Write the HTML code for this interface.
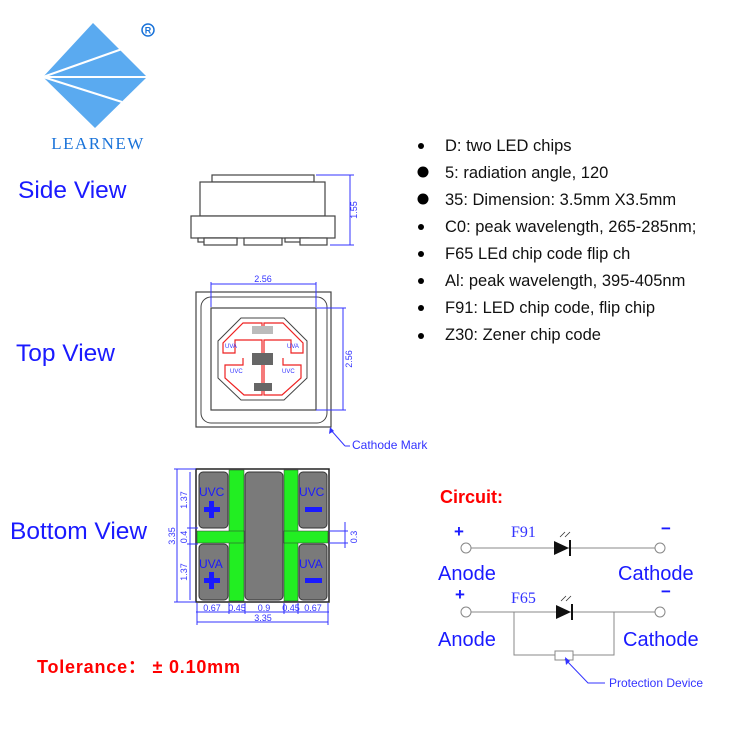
<!DOCTYPE html>
<html><head><meta charset="utf-8"><style>
html,body{margin:0;padding:0;background:#fff}
svg{display:block}
text{font-family:"Liberation Sans","Noto Sans CJK SC",sans-serif}
text.serif{font-family:"Liberation Serif",serif}
</style></head><body>
<svg width="750" height="750" viewBox="0 0 750 750" xmlns="http://www.w3.org/2000/svg">
<!-- logo -->
<polygon points="93,23 147,77 95,128 43,77" fill="#5aaaf0"/>
<line x1="43" y1="77" x2="122" y2="49" stroke="#fff" stroke-width="2"/>
<line x1="43" y1="77" x2="147" y2="77" stroke="#fff" stroke-width="2"/>
<line x1="43" y1="77" x2="122" y2="102" stroke="#fff" stroke-width="2"/>
<circle cx="148" cy="30" r="6" fill="none" stroke="#1a73d9" stroke-width="1.5"/>
<text x="148" y="33.5" font-size="9" font-weight="bold" fill="#1a73d9" text-anchor="middle">R</text>
<text class="serif" x="98" y="149" font-size="17" fill="#1a73d9" text-anchor="middle" letter-spacing="1.5">LEARNEW</text>

<!-- labels -->
<g fill="#1a1aff" font-size="24.5">
<text x="18" y="198">Side View</text>
<text x="16" y="361">Top View</text>
<text x="10" y="539">Bottom View</text>
</g>
<text x="37" y="673" font-size="18" font-weight="bold" fill="#ff0000" textLength="203" lengthAdjust="spacing">Tolerance：  ± 0.10mm</text>

<!-- side view -->
<g fill="#fff" stroke="#444" stroke-width="1.2">
<rect x="212" y="175" width="102" height="7"/>
<rect x="200" y="182" width="125" height="34"/>
<rect x="191" y="216" width="144" height="22"/>
<rect x="198" y="238" width="39" height="4"/>
<rect x="204" y="238" width="33" height="7"/>
<rect x="244" y="238" width="38" height="7"/>
<rect x="285" y="238" width="24" height="4"/>
<rect x="300" y="238" width="27" height="7"/>
</g>
<g stroke="#3333ff" stroke-width="1" fill="none">
<line x1="316" y1="175" x2="354" y2="175"/><line x1="330" y1="245" x2="354" y2="245"/>
<line x1="350" y1="175" x2="350" y2="245"/>
</g>
<text transform="translate(357,210) rotate(-90)" font-size="9" fill="#3333ff" text-anchor="middle">1.55</text>

<!-- top view -->
<rect x="196" y="292" width="135" height="135" fill="#fff" stroke="#444" stroke-width="1.2"/>
<rect x="201" y="297" width="126" height="126" rx="10" fill="#fff" stroke="#444" stroke-width="1"/>
<rect x="211" y="308" width="105" height="102" fill="#fff" stroke="#444" stroke-width="1.2"/>
<polygon points="241,318 284,318 307,341 307,378 284,400 241,400 218,378 218,341" fill="#fff" stroke="#444" stroke-width="1"/>
<g stroke="#ee2222" stroke-width="1.2" fill="none">
<path d="M262,326 L262,323 L243,323 L223,343 L223,353 L235,353 L235,340 L262,340 L262,395 L244,395 L225,378 L225,365 L243,365 L243,358"/>
<path d="M264,326 L264,323 L283,323 L303,343 L303,353 L291,353 L291,340 L264,340 L264,395 L282,395 L301,378 L301,365 L283,365 L283,358"/>
</g>
<rect x="252" y="326" width="21" height="8" fill="#bbb"/>
<rect x="252" y="353" width="21" height="12" fill="#666"/>
<rect x="254" y="383" width="18" height="8" fill="#666"/>
<g font-size="6" fill="#3333ff">
<text x="225" y="348">UVA</text><text x="287" y="348">UVA</text>
<text x="230" y="373">UVC</text><text x="282" y="373">UVC</text>
</g>
<g stroke="#3333ff" stroke-width="1" fill="none">
<line x1="211" y1="284" x2="316" y2="284"/>
<line x1="211" y1="282" x2="211" y2="307"/><line x1="316" y1="282" x2="316" y2="307"/>
<line x1="343" y1="308" x2="343" y2="410"/>
<line x1="316" y1="308" x2="346" y2="308"/><line x1="316" y1="410" x2="346" y2="410"/>
<line x1="345" y1="446" x2="330" y2="429"/>
<line x1="345" y1="446" x2="350" y2="446"/>
</g>
<polygon points="330,427 329,434 334,431" fill="#3333ff"/>
<text x="263" y="282" font-size="9" fill="#3333ff" text-anchor="middle">2.56</text>
<text transform="translate(352,359) rotate(-90)" font-size="9" fill="#3333ff" text-anchor="middle">2.56</text>
<text x="352" y="449" font-size="12" fill="#3333ff">Cathode Mark</text>

<!-- bottom view -->
<rect x="196" y="469" width="133" height="133" fill="#fff" stroke="#222" stroke-width="1.5"/>
<g fill="#7a7a7a" stroke="#333" stroke-width="1">
<rect x="199" y="472" width="29" height="56" rx="4"/>
<rect x="199" y="544" width="29" height="56" rx="4"/>
<rect x="245" y="472" width="38" height="128" rx="4"/>
<rect x="299" y="472" width="28" height="56" rx="4"/>
<rect x="299" y="544" width="28" height="56" rx="4"/>
</g>
<g fill="#22ee22" stroke="#333" stroke-width="0.5">
<rect x="229" y="470" width="15" height="131"/>
<rect x="197" y="531" width="47" height="12"/>
<rect x="284" y="470" width="14" height="131"/>
<rect x="284" y="531" width="44" height="12"/>
</g>
<g font-size="12" fill="#1a1aff">
<text x="199" y="496">UVC</text><text x="299" y="496">UVC</text>
<text x="199" y="568">UVA</text><text x="299" y="568">UVA</text>
</g>
<g fill="#1a1aff">
<rect x="204" y="507" width="16" height="5"/><rect x="209" y="501" width="5" height="17"/>
<rect x="204" y="578" width="16" height="5"/><rect x="209" y="572" width="5" height="17"/>
<rect x="305" y="507" width="17" height="5"/>
<rect x="305" y="578" width="17" height="5"/>
</g>
<g stroke="#3333ff" stroke-width="1" fill="none">
<line x1="177" y1="469" x2="177" y2="602"/>
<line x1="174" y1="469" x2="196" y2="469"/><line x1="174" y1="602" x2="196" y2="602"/>
<line x1="190" y1="472" x2="190" y2="600"/>
<line x1="187" y1="528" x2="198" y2="528"/><line x1="187" y1="544" x2="198" y2="544"/>
<line x1="345" y1="522" x2="345" y2="548"/>
<line x1="329" y1="531" x2="348" y2="531"/><line x1="329" y1="543" x2="348" y2="543"/>
<line x1="196" y1="612" x2="329" y2="612"/>
<line x1="197" y1="603" x2="197" y2="625"/><line x1="328" y1="603" x2="328" y2="625"/>
<line x1="229" y1="603" x2="229" y2="614"/><line x1="245" y1="603" x2="245" y2="614"/>
<line x1="284" y1="603" x2="284" y2="614"/><line x1="298" y1="603" x2="298" y2="614"/>
<line x1="197" y1="622" x2="328" y2="622"/>
</g>
<g font-size="9" fill="#3333ff" text-anchor="middle">
<text transform="translate(175,536) rotate(-90)">3.35</text>
<text transform="translate(187,500) rotate(-90)">1.37</text>
<text transform="translate(187,537) rotate(-90)">0.4</text>
<text transform="translate(187,572) rotate(-90)">1.37</text>
<text transform="translate(357,537) rotate(-90)">0.3</text>
<text x="212" y="611">0.67</text><text x="237" y="611">0.45</text>
<text x="264" y="611">0.9</text><text x="291" y="611">0.45</text>
<text x="313" y="611">0.67</text>
<text x="263" y="621">3.35</text>
</g>

<!-- list -->
<g font-size="16.5" fill="#111">
<text x="445" y="151">D: two LED chips</text>
<text x="445" y="178">5: radiation angle, 120</text>
<text x="445" y="205">35: Dimension: 3.5mm X3.5mm</text>
<text x="445" y="232">C0: peak wavelength, 265-285nm;</text>
<text x="445" y="259">F65 LEd chip code flip ch</text>
<text x="445" y="286">Al: peak wavelength, 395-405nm</text>
<text x="445" y="313">F91: LED chip code, flip chip</text>
<text x="445" y="340">Z30: Zener chip code</text>
</g>
<g fill="#000">
<circle cx="421" cy="146" r="3"/><circle cx="423" cy="172" r="5.5"/><circle cx="423" cy="199" r="5.5"/>
<circle cx="421" cy="227" r="3"/><circle cx="421" cy="254" r="3"/><circle cx="421" cy="281" r="3"/>
<circle cx="421" cy="308" r="3"/><circle cx="421" cy="336" r="3"/>
</g>

<!-- circuit -->
<text x="440" y="503" font-size="18" font-weight="bold" fill="#ff0000">Circuit:</text>
<g stroke="#888" stroke-width="1" fill="#fff">
<line x1="471" y1="548" x2="655" y2="548"/>
<circle cx="466" cy="548" r="5"/><circle cx="660" cy="548" r="5"/>
<line x1="471" y1="612" x2="655" y2="612"/>
<circle cx="466" cy="612" r="5"/><circle cx="660" cy="612" r="5"/>
<polyline points="514,612 514,655 614,655 614,612" fill="none"/>
<rect x="555" y="651" width="18" height="9"/>
</g>
<polygon points="554,541 569,548 554,555" fill="#111"/>
<line x1="570" y1="540" x2="570" y2="556" stroke="#111" stroke-width="2"/>
<polygon points="556,605 571,612 556,619" fill="#111"/>
<line x1="572" y1="604" x2="572" y2="620" stroke="#111" stroke-width="2"/>
<g stroke="#333" stroke-width="0.8"><line x1="560" y1="537" x2="565" y2="532"/><line x1="565" y1="537" x2="570" y2="532"/>
<line x1="561" y1="601" x2="566" y2="596"/><line x1="566" y1="601" x2="571" y2="596"/></g>
<text class="serif" x="511" y="537" font-size="16" fill="#3333ff">F91</text>
<text class="serif" x="511" y="603" font-size="16" fill="#3333ff">F65</text>
<g fill="#1a1aff" font-size="17" font-weight="bold">
<text x="454" y="537">+</text><text x="455" y="600">+</text>
<text x="661" y="534">−</text><text x="661" y="597">−</text>
</g>
<g fill="#1a1aff" font-size="20">
<text x="438" y="580">Anode</text><text x="618" y="580">Cathode</text>
<text x="438" y="646">Anode</text><text x="623" y="646">Cathode</text>
</g>
<polyline points="565,659 588,683 605,683" fill="none" stroke="#3333ff" stroke-width="1"/>
<polygon points="565,657 566,665 570,661" fill="#3333ff"/>
<text x="609" y="687" font-size="12" fill="#3333ff">Protection Device</text>
</svg>
</body></html>
